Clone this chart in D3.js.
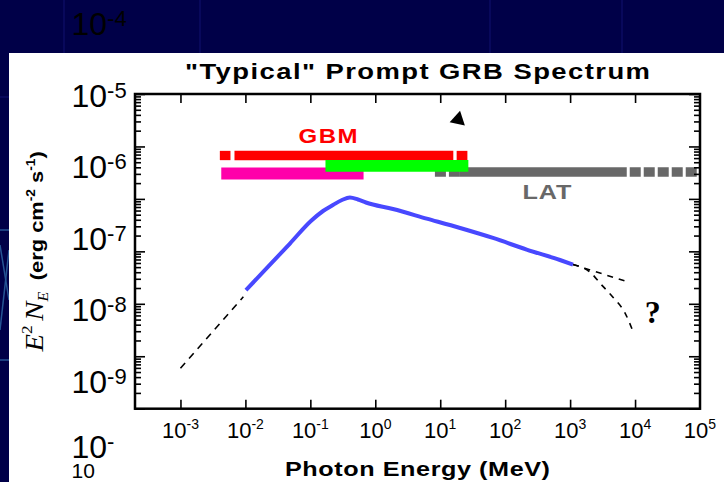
<!DOCTYPE html>
<html>
<head>
<meta charset="utf-8">
<script src="https://cdn.jsdelivr.net/npm/d3@7"></script>
<style>
  html, body { margin: 0; padding: 0; background: #000048; }
  svg { display: block; }
</style>
</head>
<body>
<svg id="chart" width="724" height="482"></svg>
<script>
// ---- Spectrum (E^2 N_E in erg cm^-2 s^-1, photon energy in MeV) ----
const spectrumE    = [0.0102, 0.0222, 0.0485, 0.102, 0.157, 0.223, 0.307, 0.407, 0.541, 0.718, 1.87, 6.18, 20.2, 64.9, 214, 698, 1107];
const spectrumFlux = [1.83e-8, 5.04e-8, 1.41e-7, 3.79e-7, 5.88e-7, 7.65e-7, 9.53e-7, 1.064e-6, 9.75e-7, 8.54e-7, 6.41e-7, 4.22e-7, 2.79e-7, 1.80e-7, 1.08e-7, 6.84e-8, 5.61e-8];

// low-energy extrapolation
const lowExtE    = [0.001, 0.0093];
const lowExtFlux = [5.9e-10, 1.36e-8];

// high-energy extrapolations: unbroken power law, and a cut-off
const highPowE    = [1107, 7762];
const highPowFlux = [5.61e-8, 2.61e-8];
const highCutE    = [1107, 2089, 2951, 4677, 6918, 9120];
const highCutFlux = [5.61e-8, 3.89e-8, 2.40e-8, 1.29e-8, 6.9e-9, 3.16e-9];

// ---- Instrument energy coverage (MeV) ----
const gbmSegments   = [[0.00404, 0.00589], [0.00679, 15.9], [17.9, 26.2]];
const naiRange      = [0.00425, 0.66];
const bgoRange      = [0.171, 27.1];
const latLowDashed  = [8.28, 20.1];
const latSolid      = [20.1, 7450];
const latHighDashed = [8280, 89100];
// vertical placement of each coverage bar
const gbmLevel = 6.72e-6;
const bgoLevel = 4.26e-6;
const naiLevel = 3.06e-6;
const latLevel = 3.26e-6;

// ---- Axis ticks ----
const xTickExponents = [-3, -2, -1, 0, 1, 2, 3, 4, 5];
const yMajorExponents = [-10, -9, -8, -7, -6, -5, -4];
const yLabelExponents = [-4, -5, -6, -7, -8, -9];

// ---- Annotations ----
const gbmLabel = { E: 0.1875, flux: 1.18e-5, text: "GBM" };
const latLabel = { E: 440, flux: 1.0e-6, text: "LAT" };
const questionMark = { E: 14100, flux: 4.36e-9, text: "?" };
const arrowHead = { E: 18.9, flux: 3.27e-5 };

const svg = d3.select("#chart");
const W = 724, H = 482;
const plot = { left: 135, right: 700, top: 94, bottom: 408.7 };
const sans = "Liberation Sans, Arial, Helvetica, sans-serif";
const serif = "Liberation Serif, Times New Roman, serif";

const x = d3.scaleLog().domain([Math.pow(10, -3.7), 1e5]).range([plot.left, plot.right]);
const y = d3.scaleLog().domain([1e-10, 1e-4]).range([plot.bottom, plot.top]);

// ---- Backdrop ----
svg.append("rect").attr("width", W).attr("height", H).attr("fill", "#000048");
const faint = svg.append("g").attr("stroke", "#0b0b62").attr("stroke-width", 1.5);
[64, 200, 490, 622].forEach(px => faint.append("line").attr("x1", px).attr("x2", px).attr("y1", 0).attr("y2", 53));
faint.append("line").attr("x1", 0).attr("x2", 9).attr("y1", 97).attr("y2", 97);
const edge = svg.append("g").attr("stroke", "#2f6aa8").attr("stroke-width", 1.5).attr("opacity", 0.8);
edge.append("line").attr("x1", 0).attr("x2", 9).attr("y1", 230).attr("y2", 230);
edge.append("line").attr("x1", 0).attr("x2", 9).attr("y1", 360).attr("y2", 360);
edge.append("line").attr("x1", 0).attr("x2", 9).attr("y1", 245).attr("y2", 300);
edge.append("line").attr("x1", 9).attr("x2", 0).attr("y1", 250).attr("y2", 330);
svg.append("rect").attr("x", 9).attr("y", 53).attr("width", W - 9).attr("height", H - 53).attr("fill", "#ffffff");

// bold captions are set in a horizontally widened face
function wideText(cx, baseline, size, stretch, width, fill, str) {
  return svg.append("text")
    .attr("transform", `translate(${cx},${baseline}) scale(${stretch},1)`)
    .attr("text-anchor", "middle")
    .attr("font-family", sans).attr("font-weight", "bold")
    .attr("font-size", size).attr("fill", fill)
    .attr("textLength", width / stretch).attr("lengthAdjust", "spacing")
    .text(str);
}

// ---- Title ----
wideText((plot.left + plot.right) / 2, 79, 22.5, 1.22, 465, "#000", "\"Typical\" Prompt GRB Spectrum");

// ---- Coverage bars ----
const bars = svg.append("g");
function bar(range, level, color, thickness, dash) {
  const l = bars.append("line")
    .attr("x1", x(range[0])).attr("x2", x(range[1]))
    .attr("y1", y(level)).attr("y2", y(level))
    .attr("stroke", color).attr("stroke-width", thickness);
  if (dash) l.attr("stroke-dasharray", dash);
  return l;
}
bar(naiRange, naiLevel, "#ff00aa", 12);
bar(latLowDashed, latLevel, "#686868", 9.5, "11 3");
bar(latSolid, latLevel, "#686868", 9.5);
bar(latHighDashed, latLevel, "#686868", 9.5, "11 3");
gbmSegments.forEach(s => bar(s, gbmLevel, "#ff0000", 9.3));
bar(bgoRange, bgoLevel, "#00ff00", 11.7);

// ---- Spectrum curves ----
const zipPts = (a, b) => a.map((v, i) => [v, b[i]]);
const straight = d3.line().x(d => x(d[0])).y(d => y(d[1]));
const smooth = d3.line().x(d => x(d[0])).y(d => y(d[1])).curve(d3.curveMonotoneX);

svg.append("path")
  .datum(zipPts(lowExtE, lowExtFlux))
  .attr("d", straight).attr("fill", "none")
  .attr("stroke", "#000").attr("stroke-width", 1.6).attr("stroke-dasharray", "7 6");
svg.append("path")
  .datum(zipPts(highPowE, highPowFlux))
  .attr("d", straight).attr("fill", "none")
  .attr("stroke", "#000").attr("stroke-width", 1.6).attr("stroke-dasharray", "6 6");
svg.append("path")
  .datum(zipPts(highCutE, highCutFlux))
  .attr("d", smooth).attr("fill", "none")
  .attr("stroke", "#000").attr("stroke-width", 1.6).attr("stroke-dasharray", "6 6");
svg.append("path")
  .datum(zipPts(spectrumE, spectrumFlux))
  .attr("d", smooth)
  .attr("fill", "none").attr("stroke", "#4848ff").attr("stroke-width", 4)
  .attr("stroke-linejoin", "round");

// ---- Annotations ----
wideText(x(gbmLabel.E), y(gbmLabel.flux), 20, 1.2, 59, "#ff0000", gbmLabel.text);
wideText(x(latLabel.E), y(latLabel.flux), 21, 1.2, 49, "#686868", latLabel.text);
svg.append("text")
  .attr("x", x(questionMark.E)).attr("y", y(questionMark.flux))
  .attr("font-family", serif)
  .attr("font-weight", "bold").attr("font-size", 32)
  .text(questionMark.text);
svg.append("path")
  .attr("d", d3.symbol(d3.symbolTriangle, 105))
  .attr("transform", `translate(${x(arrowHead.E)},${y(arrowHead.flux)}) rotate(12)`)
  .attr("fill", "#000");

// ---- Axes (ticks point inward) ----
const xTickVals = xTickExponents.map(e => Math.pow(10, e));
const yMajors = yMajorExponents.map(e => Math.pow(10, e));
const yMinors = [];
yMajorExponents.slice(0, -1).forEach(e => { for (let k = 2; k <= 9; k++) yMinors.push(k * Math.pow(10, e)); });

function styleAxis(g) {
  g.selectAll(".domain").remove();
  g.selectAll(".tick line").attr("stroke", "#000").attr("stroke-width", 1.6);
  g.selectAll(".tick text").remove();
}
svg.append("g").attr("transform", `translate(0,${plot.bottom})`)
  .call(d3.axisBottom(x).tickValues(xTickVals.slice(0, -1)).tickSizeInner(-9).tickSizeOuter(0)).call(styleAxis);
svg.append("g").attr("transform", `translate(0,${plot.top})`)
  .call(d3.axisTop(x).tickValues(xTickVals.slice(0, -1)).tickSizeInner(-9).tickSizeOuter(0)).call(styleAxis);
svg.append("g").attr("transform", `translate(${plot.left},0)`)
  .call(d3.axisLeft(y).tickValues(yMajors).tickSizeInner(-10).tickSizeOuter(0)).call(styleAxis);
svg.append("g").attr("transform", `translate(${plot.left},0)`)
  .call(d3.axisLeft(y).tickValues(yMinors).tickSizeInner(-6).tickSizeOuter(0)).call(styleAxis);
svg.append("g").attr("transform", `translate(${plot.right},0)`)
  .call(d3.axisRight(y).tickValues(yMajors).tickSizeInner(-11).tickSizeOuter(0)).call(styleAxis);
svg.append("g").attr("transform", `translate(${plot.right},0)`)
  .call(d3.axisRight(y).tickValues(yMinors).tickSizeInner(-6).tickSizeOuter(0)).call(styleAxis);

// frame
svg.append("rect")
  .attr("x", plot.left).attr("y", plot.top)
  .attr("width", plot.right - plot.left).attr("height", plot.bottom - plot.top)
  .attr("fill", "none").attr("stroke", "#000").attr("stroke-width", 2.5);

// x tick labels with superscript exponents
const xLab = svg.append("g").attr("font-family", sans).attr("fill", "#000");
xTickExponents.forEach(e => {
  const t = xLab.append("text")
    .attr("x", x(Math.pow(10, e))).attr("y", 438)
    .attr("text-anchor", "middle");
  t.append("tspan").attr("font-size", 22).text("10");
  t.append("tspan").attr("font-size", 14).attr("dy", -9).text(String(e));
});

// x axis title
wideText((plot.left + plot.right) / 2, 476, 21, 1.2, 265, "#000", "Photon Energy (MeV)");

// y decade labels, laid out on their own line spacing
const labelY = d3.scaleLinear().domain([-4, -9]).range([35, 393]);
const yLab = svg.append("g").attr("font-family", sans).attr("fill", "#000");
yLabelExponents.forEach(e => {
  const t = yLab.append("text").attr("x", 71.5).attr("y", labelY(e));
  t.append("tspan").attr("font-size", 32).text("10");
  t.append("tspan").attr("font-size", 22).attr("dy", -9).text(String(e));
});
// the 10^-10 label wraps, its exponent digits falling onto a second line
const wrapped = yLab.append("text").attr("x", 71.5).attr("y", labelY(-10) - 7);
wrapped.append("tspan").attr("font-size", 32).text("10");
wrapped.append("tspan").attr("font-size", 22).attr("dy", -9).text("-");
wrapped.append("tspan").attr("font-size", 21).attr("x", 71.5).attr("dy", 29).text("10");

// y axis title
const yt = svg.append("text")
  .attr("transform", `translate(43,${(plot.top + plot.bottom) / 2}) rotate(-90) scale(1.15,1)`)
  .attr("text-anchor", "middle").attr("fill", "#000");
yt.append("tspan").attr("font-family", serif).attr("font-style", "italic").attr("font-size", 25).text("E");
yt.append("tspan").attr("font-family", serif).attr("font-size", 15).attr("dy", -11).text("2");
yt.append("tspan").attr("font-family", serif).attr("font-style", "italic").attr("font-size", 25).attr("dy", 11).attr("dx", 4).text("N");
yt.append("tspan").attr("font-family", serif).attr("font-style", "italic").attr("font-size", 14).attr("dy", 5).text("E");
yt.append("tspan").attr("font-family", sans).attr("font-weight", "bold").attr("font-size", 19).attr("dy", -5).attr("dx", 10).text("(erg cm");
yt.append("tspan").attr("font-family", sans).attr("font-weight", "bold").attr("font-size", 12).attr("dy", -8).text("-2");
yt.append("tspan").attr("font-family", sans).attr("font-weight", "bold").attr("font-size", 19).attr("dy", 8).text(" s");
yt.append("tspan").attr("font-family", sans).attr("font-weight", "bold").attr("font-size", 12).attr("dy", -8).text("-1");
yt.append("tspan").attr("font-family", sans).attr("font-weight", "bold").attr("font-size", 19).attr("dy", 8).text(")");
</script>
</body>
</html>
